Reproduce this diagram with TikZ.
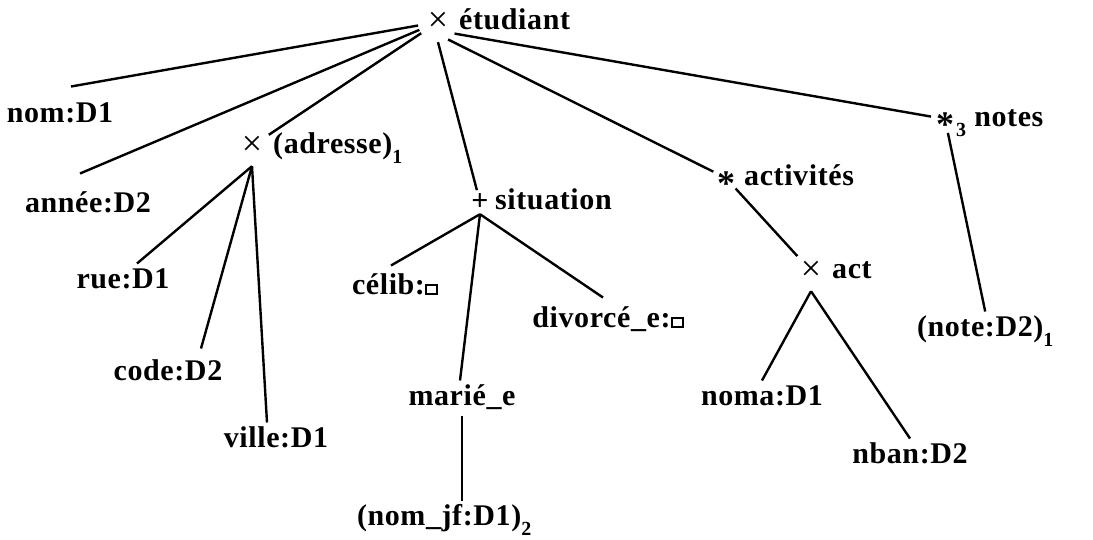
\documentclass[tikz,border=0pt]{standalone}
\usepackage{fontspec}
\setmainfont{Liberation Serif}
\usepackage{tikz}
\usetikzlibrary{arrows,calc,positioning}
\newcommand{\vide}{\raisebox{1.5pt}{\setlength{\fboxrule}{2pt}\setlength{\fboxsep}{0pt}\fbox{\rule{0pt}{7pt}\hspace{9pt}}}}
\newcommand{\idx}[1]{\raisebox{-0.32em}{\fontsize{20}{20}\selectfont #1}}
\newcommand{\etoile}{\raisebox{-0.48em}[0pt][0pt]{\fontsize{36}{36}\selectfont *}}
\newcommand{\croix}{{\fontsize{36}{36}\selectfont\mdseries ×}}
\tikzset{
        leaf/.style = {font=\fontsize{30}{32}\selectfont\bfseries\addfontfeature{LetterSpace=2},
            inner sep=1pt, outer sep=4pt,
            text height=20pt, text depth=5pt},
        lbl/.style = {leaf, anchor=west, outer sep=0pt},
        ndmark/.style = {circle, inner sep=0pt, minimum size=#1,
            font=\fontsize{36}{36}\selectfont\bfseries},
        ndmark/.default = 40pt,
        link/.style = {draw, line width=2.4pt},
    }

\begin{document}
\begin{tikzpicture}[x=1pt,y=-1pt]
  \useasboundingbox (0,0) rectangle (1093,539);

  \node[ndmark] (etud) at (438,22) {\croix};
  \node[lbl, right=0pt of etud] (etud-t) {étudiant};

  \node[leaf] (nom) at (60,115) {nom:D1};
  \node[leaf] (annee) at (88,205) {année:D2};

  \node[ndmark] (adr) at (252,146) {\croix};
  \node[lbl, right=0pt of adr] (adr-t) {(adresse)\idx{1}};
  \node[leaf] (rue) at (123,281) {rue:D1};
  \node[leaf] (code) at (168,373) {code:D2};
  \node[leaf] (ville) at (276,440) {ville:D1};

  \node[ndmark=20pt] (sit) at (480,202) {\fontsize{30}{30}\selectfont +};
  \node[lbl, right=2pt of sit] (sit-t) {situation};
  \node[leaf] (celib) at (395,287) {célib:\vide};
  \node[leaf] (marie) at (462,398) {marié\_e};
  \node[leaf] (divorce) at (608,320) {divorcé\_e:\vide};
  \node[leaf, anchor=west] (nomjf) at (352,518) {(nom\_jf:D1)\idx{2}};

  \node[ndmark=28pt] (actv) at (726,178) {\etoile};
  \node[lbl, right=3pt of actv] (actv-t) {activités};
  \node[ndmark] (act) at (811,271) {\croix};
  \node[lbl, right=0pt of act] (act-t) {act};
  \node[leaf] (noma) at (762,398) {noma:D1};
  \node[leaf] (nban) at (910,456) {nban:D2};

  \node[ndmark=28pt] (notes) at (945,119) {\etoile};
  \node[lbl, right=-4pt of notes] (notes-t) {\idx{3} notes};
  \node[leaf, anchor=west] (note) at (912,329) {(note:D2)\idx{1}};

  \draw[link] (etud) -- ([xshift=11pt,yshift=11pt]nom.north);
  \draw[link] (etud) -- ([xshift=-8pt,yshift=14pt]annee.north);
  \draw[link] (etud) -- (adr);
  \draw[link] (etud.south) -- (sit);
  \draw[link] (etud.-60) -- (actv);
  \draw[link] (etud.-35) -- (notes);

  \draw[link] (adr.south) -- ([xshift=14pt]rue.north);
  \draw[link] (adr.south) -- ([xshift=33pt,yshift=7pt]code.north);
  \draw[link] (adr.south) -- ([xshift=-9pt]ville.north);

  \draw[link] (sit.south) -- ([xshift=-4pt,yshift=4pt]celib.north);
  \draw[link] (sit.south) -- ([xshift=-2pt]marie.north);
  \draw[link] (sit.south) -- ([xshift=-5pt,yshift=5pt]divorce.north);
  \draw[link] (marie.south) -- (marie.south |- nomjf.north);

  \draw[link] (actv) -- (act);
  \draw[link] (act.south) -- (noma.north);
  \draw[link] (act.south) -- (nban.north);

  \draw[link] (notes) -- (note.north);
\end{tikzpicture}
\end{document}
